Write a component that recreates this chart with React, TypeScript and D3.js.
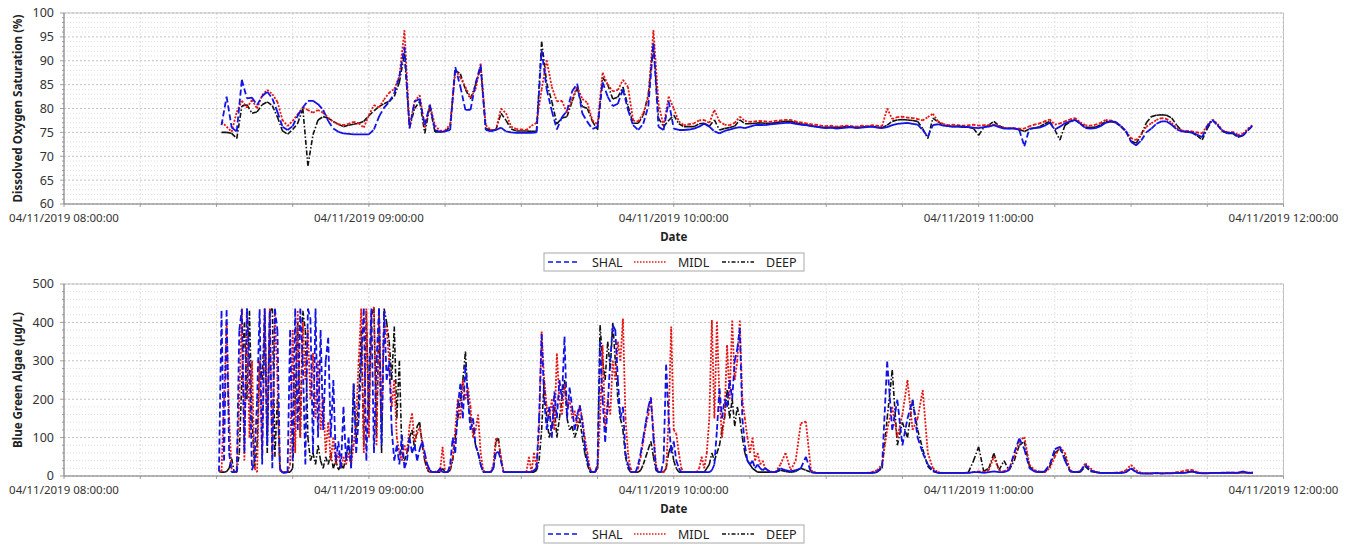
import React from 'react';
import * as d3 from 'd3';

// ---------- DATA ----------
// Dissolved oxygen saturation (%), one value per minute from 08:31 to 11:54
const DO_START_MIN = 31;
const doShal = [
  76.5, 82.5, 76.0, 75.2, 86.0, 82.1, 82.3, 80.7, 82.6, 83.5,
  82.1, 79.3, 76.2, 75.5, 76.3, 78.5, 80.2, 81.6, 81.6, 80.9,
  79.7, 77.4, 75.8, 75.1, 74.8, 74.7, 74.6, 74.6, 74.6, 74.6,
  75.6, 78.3, 80.2, 81.4, 83.2, 86.7, 92.9, 75.8, 81.5, 82.0,
  76.5, 80.8, 75.5, 75.1, 75.2, 75.5, 88.7, 84.6, 79.7, 79.7,
  85.3, 89.1, 75.5, 75.2, 75.5, 76.0, 75.2, 75.0, 74.9, 74.9,
  74.9, 74.9, 75.0, 92.2, 84.0, 79.5, 75.6, 78.2, 79.5, 83.6,
  85.2, 79.0, 77.2, 75.7, 76.2, 85.5, 82.5, 80.5, 81.0, 84.0,
  79.7, 76.5, 75.5, 76.8, 80.5, 93.6, 76.2, 75.5, 81.5, 75.8,
  75.5, 75.5, 75.6, 75.8, 76.2, 76.8, 76.2, 75.2, 74.8, 75.3,
  75.6, 75.9, 76.1, 75.9, 76.2, 76.5, 76.6, 76.5, 76.7, 76.8,
  76.9, 77.0, 77.0, 76.8, 76.6, 76.5, 76.3, 76.2, 76.0, 75.9,
  76.0, 75.8, 75.9, 76.0, 76.1, 75.9, 76.0, 76.1, 76.2, 76.0,
  75.9, 76.1, 76.5, 76.8, 76.9, 77.0, 76.8, 76.6, 75.5, 74.1,
  76.5, 76.7, 76.4, 76.3, 76.2, 76.3, 76.2, 76.1, 76.0, 75.9,
  76.1, 76.2, 76.5, 76.1, 75.8, 75.8, 75.9, 75.5, 72.1, 75.8,
  75.9, 76.0, 76.4, 77.0, 75.6, 76.2, 76.9, 77.3, 77.6, 76.8,
  75.9, 75.8, 75.9, 76.3, 77.0, 77.3, 77.2, 76.3, 75.3, 73.0,
  72.3, 73.3, 75.0, 75.8, 76.8, 77.3, 77.3, 76.6, 75.6, 75.2,
  75.1, 75.0, 74.5, 74.0, 76.3, 77.6, 76.5, 75.3, 74.9, 74.9,
  74.2, 74.3, 75.5, 76.5,
];
const doMidl = [
  77.2, 76.2, 75.1, 79.3, 81.6, 80.2, 81.8, 80.0, 82.8, 83.9,
  83.0, 81.4, 77.6, 76.3, 77.4, 78.8, 80.2, 79.7, 79.1, 79.7,
  79.1, 78.1, 77.2, 76.7, 76.5, 76.8, 77.2, 76.9, 76.0, 78.6,
  80.7, 80.2, 81.9, 83.3, 84.1, 86.7, 96.4, 76.2, 81.5, 82.8,
  76.0, 80.8, 76.5, 75.3, 75.4, 76.7, 88.0, 86.5, 84.5, 82.3,
  84.0, 89.4, 76.5, 75.5, 75.5, 80.0, 79.0, 76.2, 75.7, 75.6,
  75.5, 76.4, 77.0, 84.0, 90.1, 84.5, 81.5, 81.6, 79.0, 82.0,
  84.6, 82.0, 81.2, 77.5, 76.7, 87.5, 85.0, 83.6, 83.9, 86.0,
  84.5, 77.5, 77.3, 79.0, 82.4, 96.4, 81.0, 76.3, 82.5, 80.0,
  77.3, 76.5, 76.7, 76.9, 77.5, 77.6, 77.0, 79.7, 77.3, 76.6,
  76.5, 77.0, 78.3, 77.4, 77.2, 77.3, 77.4, 77.3, 77.2, 77.4,
  77.5, 77.6, 77.6, 77.3, 77.1, 76.9, 76.7, 76.6, 76.4, 76.3,
  76.4, 76.2, 76.3, 76.4, 76.3, 76.2, 76.4, 76.3, 76.5, 76.4,
  76.3, 80.0, 77.8, 78.2, 78.3, 78.1, 78.0, 77.8, 77.5, 78.2,
  78.9, 77.3, 76.8, 76.5, 76.6, 76.5, 76.4, 76.5, 76.6, 76.4,
  76.5, 76.5, 76.6, 76.3, 76.0, 75.9, 75.8, 75.8, 75.8, 76.3,
  76.6, 76.9, 77.3, 77.7, 76.6, 76.9, 77.3, 77.7, 78.0, 77.1,
  76.5, 76.4, 76.6, 77.0, 77.6, 77.5, 77.1, 76.3, 75.2, 73.8,
  73.4, 74.5, 76.2, 76.9, 77.6, 78.0, 77.8, 77.0, 75.9, 75.4,
  75.3, 75.2, 75.0, 74.8, 76.5, 77.7, 76.8, 75.4, 75.0, 75.1,
  74.5, 74.7, 75.8, 76.6,
];
const doDeep = [
  75.0, 75.0, 74.8, 73.7, 80.5, 80.8, 79.0, 79.3, 80.8, 81.4,
  80.6, 78.2, 75.3, 74.6, 75.6, 76.9, 80.0, 68.0, 74.5, 77.6,
  78.3, 78.0, 77.3, 76.7, 76.2, 76.5, 76.7, 76.9, 77.3, 78.5,
  79.5, 80.4, 81.0, 81.5, 82.5, 85.5, 91.5, 76.0, 80.0, 81.5,
  74.8, 80.4, 75.1, 75.1, 75.2, 76.2, 88.0, 87.3, 84.0, 82.0,
  85.0, 88.5, 75.8, 75.5, 75.5, 79.0, 77.5, 75.7, 75.3, 75.3,
  75.3, 75.2, 75.3, 94.0, 85.3, 81.5, 76.8, 78.0, 78.3, 81.5,
  84.3, 80.4, 80.0, 77.3, 75.5, 86.5, 85.0, 82.0, 82.4, 84.5,
  80.5, 76.9, 76.9, 78.5, 83.0, 93.6, 78.0, 76.2, 77.5, 78.6,
  76.8, 76.2, 76.2, 76.2, 76.8, 76.9, 76.3, 77.6, 75.5, 75.8,
  76.0, 76.3, 77.6, 76.8, 76.8, 76.9, 77.0, 76.9, 76.9, 77.0,
  77.2, 77.3, 77.3, 77.0, 76.8, 76.6, 76.4, 76.2, 76.1, 76.0,
  76.1, 76.0, 76.1, 76.2, 76.1, 76.0, 76.1, 76.2, 76.3, 76.1,
  76.0, 76.5, 77.3, 77.6, 77.7, 77.6, 77.5, 77.3, 75.8, 73.7,
  78.0, 77.2, 76.6, 76.3, 76.2, 76.2, 76.1, 76.1, 75.8, 74.4,
  76.0, 76.5, 77.3, 76.4, 75.9, 75.8, 75.8, 75.6, 75.2, 75.7,
  75.9, 76.2, 76.8, 77.3, 75.5, 73.4, 76.5, 77.2, 77.6, 76.9,
  76.1, 76.0, 76.1, 76.6, 77.2, 77.3, 77.0, 76.2, 75.1, 73.2,
  72.7, 74.5, 77.0, 78.3, 78.6, 78.7, 78.6, 78.0, 76.5, 75.3,
  75.1, 74.9, 74.3, 73.4, 75.8, 77.6, 76.6, 75.2, 74.8, 74.8,
  74.0, 74.3, 75.4, 76.4,
];

// Blue green algae (µg/L): every 30 s from 08:30:30 to 10:20, then every minute to 11:54
const BGA_EARLY_START_MIN = 30.5;
const BGA_EARLY_STEP_MIN = 0.5;
const bgaShalEarly = [
  12,
  430, 40, 432, 60, 10, 10, 12, 380, 434, 60,
  436, 300, 15, 40, 200, 434, 30, 436, 80, 430,
  20, 436, 380, 20, 8, 8, 10, 380, 40, 436,
  120, 436, 300, 30, 436, 410, 60, 436, 100, 380,
  120, 300, 360, 100, 250, 40, 90, 20, 180, 40,
  100, 20, 240, 60, 150, 300, 436, 40, 250, 436,
  60, 300, 436, 80, 430, 250, 300, 120, 40, 80,
  30, 107, 20, 40, 100, 60, 80, 40, 70, 90,
  60, 30, 15, 10, 10, 10, 20, 10, 10, 10,
  30, 100, 60, 180, 240, 150, 290, 200, 120, 150,
  80, 60, 30, 10, 10, 10, 10, 20, 60, 63,
  40, 10, 10, 10, 10, 10, 10, 10, 10, 10,
  10, 10, 10, 15, 20, 150, 370, 200, 120, 180,
  100, 220, 150, 250, 200, 363, 150, 230, 180, 120,
  160, 184, 140, 80, 40, 15, 10, 10, 30, 350,
  200, 89, 180, 300, 393, 380, 250, 150, 180, 60,
  30, 10, 10, 10, 30, 60, 100, 140, 180, 205,
  100, 20, 10, 10, 40, 290, 150, 60, 90, 40,
  20, 10, 10, 10, 10, 10, 10, 10, 10, 10,
  10, 10, 10, 15, 30, 120, 228, 150, 200, 180,
  250, 200, 300, 330, 385, 150, 80, 40, 30, 40,
  20, 30, 20, 15, 20, 15, 10, 10, 10,
];
const bgaMidlEarly = [
  12,
  12, 200, 400, 150, 10, 10, 10, 200, 436, 40,
  436, 100, 300, 20, 10, 300, 60, 436, 120, 436,
  50, 430, 250, 15, 10, 10, 10, 30, 380, 60,
  430, 100, 400, 250, 380, 200, 320, 150, 300, 120,
  200, 60, 140, 40, 100, 30, 60, 20, 50, 30,
  60, 30, 80, 150, 300, 436, 60, 436, 100, 430,
  440, 80, 420, 150, 400, 380, 300, 180, 250, 100,
  60, 40, 80, 60, 130, 163, 90, 110, 128, 90,
  50, 20, 10, 10, 10, 15, 10, 76, 10, 10,
  20, 50, 120, 200, 150, 250, 200, 230, 180, 100,
  120, 160, 60, 15, 10, 10, 10, 30, 98, 90,
  50, 10, 10, 10, 10, 10, 10, 10, 10, 10,
  10, 50, 10, 60, 20, 120, 376, 250, 180, 150,
  200, 120, 319, 200, 160, 240, 180, 200, 150, 170,
  130, 184, 150, 100, 60, 20, 10, 10, 20, 150,
  341, 124, 200, 160, 300, 250, 350, 300, 410, 150,
  60, 20, 10, 10, 20, 50, 90, 130, 160, 202,
  120, 30, 10, 10, 10, 20, 150, 389, 120, 110,
  60, 20, 10, 10, 10, 10, 10, 10, 20, 50,
  20, 60, 150, 406, 150, 402, 200, 100, 160, 341,
  200, 405, 250, 300, 405, 200, 150, 100, 60, 100,
  40, 60, 30, 40, 20, 15, 12, 10, 10,
];
const bgaDeepEarly = [
  12,
  10, 10, 12, 20, 45, 10, 10, 60, 250, 400,
  200, 430, 150, 20, 80, 300, 250, 420, 60, 430,
  436, 50, 200, 15, 10, 10, 10, 10, 20, 200,
  400, 100, 430, 380, 100, 40, 60, 30, 80, 40,
  20, 50, 30, 60, 20, 40, 15, 30, 20, 50,
  80, 30, 241, 100, 200, 380, 80, 430, 150, 420,
  436, 100, 436, 60, 436, 400, 350, 250, 389, 150,
  300, 60, 40, 60, 100, 120, 70, 130, 140, 80,
  40, 15, 10, 10, 10, 10, 10, 20, 10, 10,
  15, 40, 100, 150, 200, 250, 324, 200, 150, 120,
  80, 60, 30, 10, 10, 10, 10, 20, 90, 98,
  40, 10, 10, 10, 10, 10, 10, 10, 10, 10,
  10, 10, 10, 10, 15, 40, 120, 250, 150, 100,
  130, 180, 100, 150, 200, 250, 150, 120, 130, 100,
  120, 150, 100, 60, 30, 10, 10, 10, 20, 393,
  300, 250, 350, 280, 398, 300, 200, 150, 120, 50,
  20, 10, 10, 10, 10, 15, 30, 50, 70, 90,
  50, 15, 10, 10, 10, 20, 60, 80, 40, 20,
  10, 10, 10, 10, 10, 10, 10, 10, 10, 10,
  10, 20, 30, 60, 40, 60, 80, 120, 150, 224,
  150, 200, 130, 180, 150, 100, 60, 40, 30, 20,
  15, 10, 10, 10, 10, 10, 10, 10, 10,
];
const BGA_LATE_START_MIN = 141;
const BGA_LATE_STEP_MIN = 1;
const bgaShalLate = [
  20, 15, 12, 15, 20, 50, 10, 8, 8, 8,
  8, 8, 8, 8, 8, 8, 8, 8, 8, 10,
  25, 298, 120, 198, 80, 150, 198, 100, 60, 30,
  15, 8, 8, 8, 8, 8, 8, 8, 10, 10,
  8, 10, 12, 10, 10, 15, 60, 98, 70, 20,
  12, 10, 12, 30, 70, 76, 40, 12, 10, 12,
  30, 15, 10, 8, 8, 8, 8, 8, 10, 20,
  10, 6, 6, 6, 8, 6, 7, 7, 8, 8,
  9, 12, 8, 7, 7, 8, 8, 8, 9, 9,
  8, 12, 8, 9,
];
const bgaMidlLate = [
  30, 60, 15, 40, 137, 142, 15, 8, 8, 8,
  8, 8, 8, 8, 8, 8, 8, 8, 10, 15,
  30, 120, 180, 100, 160, 250, 120, 150, 224, 60,
  20, 10, 8, 8, 8, 8, 8, 8, 10, 12,
  10, 15, 50, 15, 12, 20, 50, 90, 102, 30,
  15, 12, 10, 20, 50, 76, 60, 15, 10, 12,
  33, 20, 10, 8, 8, 8, 9, 10, 15, 29,
  15, 8, 7, 7, 7, 7, 8, 8, 10, 12,
  15, 16, 10, 8, 8, 8, 8, 9, 9, 9,
  9, 10, 9, 9,
];
const bgaDeepLate = [
  15, 12, 10, 12, 20, 15, 10, 8, 8, 8,
  8, 8, 8, 8, 8, 8, 8, 8, 8, 10,
  20, 150, 276, 80, 140, 100, 198, 120, 70, 25,
  12, 8, 8, 8, 8, 8, 8, 10, 40, 76,
  12, 20, 59, 15, 40, 15, 40, 80, 90, 25,
  12, 10, 10, 25, 60, 70, 50, 12, 10, 10,
  25, 12, 10, 8, 8, 8, 8, 8, 10, 20,
  10, 7, 7, 7, 7, 7, 7, 8, 8, 8,
  10, 12, 8, 8, 8, 8, 8, 8, 8, 8,
  8, 9, 8, 8,
];

const seriesNames = ['SHAL', 'MIDL', 'DEEP'];
const xTickLabels = [
  '04/11/2019 08:00:00',
  '04/11/2019 09:00:00',
  '04/11/2019 10:00:00',
  '04/11/2019 11:00:00',
  '04/11/2019 12:00:00',
];
const xTickMinutes = [0, 60, 120, 180, 240];
const doTicks = [60, 65, 70, 75, 80, 85, 90, 95, 100];
const bgaTicks = [0, 100, 200, 300, 400, 500];

// ---------- STYLE ----------
const FONT = "'Noto Sans', 'DejaVu Sans', Arial, sans-serif";
const STYLES: Record<string, { color: string; dash: string; width: number }> = {
  SHAL: { color: '#1212e6', dash: '6,3', width: 1.8 },
  MIDL: { color: '#e81414', dash: '2,1.5', width: 1.8 },
  DEEP: { color: '#111111', dash: '5,2,1.5,2', width: 1.6 },
};
const LEGEND_DASH: Record<string, string> = { SHAL: '5,3', MIDL: '1.5,1.5', DEEP: '4,2,1.5,2' };

const PLOT_LEFT = 64;
const PLOT_RIGHT = 1283.5;
const xScale = d3.scaleLinear().domain([0, 240]).range([PLOT_LEFT, PLOT_RIGHT]);

type Pt = [number, number];

function toPoints(values: number[], start: number, step: number): Pt[] {
  return values.map((v, i) => [start + i * step, v] as Pt);
}

// each segment is its own sub-path so the dash pattern restarts per segment
function segmentPath(pts: Pt[], y: d3.ScaleLinear<number, number>): string {
  const line = d3.line<Pt>().x((d) => xScale(d[0])).y((d) => y(d[1]));
  const parts: string[] = [];
  for (let i = 1; i < pts.length; i++) {
    parts.push(line([pts[i - 1], pts[i]]) as string);
  }
  return parts.join('');
}

interface PanelProps {
  top: number;
  bottom: number;
  domain: [number, number];
  majors: number[];
  minorStep: number;
  yLabel: string;
  yLabelLen: number;
  series: { name: string; pts: Pt[] }[];
}

function Panel({ top, bottom, domain, majors, minorStep, yLabel, yLabelLen, series }: PanelProps) {
  const y = d3.scaleLinear().domain(domain).range([bottom, top]);
  const minors = d3
    .range(domain[0], domain[1] + 1e-9, minorStep)
    .filter((v) => !majors.some((m) => Math.abs(m - v) < 1e-9));
  const quarters = d3.range(0, 241, 15);
  const midY = (top + bottom) / 2;
  const legendTop = bottom + 49;
  const legendH = 18;
  const legendMid = legendTop + legendH / 2;
  const legendItems = [
    { name: 'SHAL', x0: 548, x1: 580, tx: 592 },
    { name: 'MIDL', x0: 634, x1: 667, tx: 678 },
    { name: 'DEEP', x0: 722, x1: 754, tx: 766 },
  ];
  // draw last series first so SHAL is on top
  const drawOrder = [...series].reverse();
  return (
    <g>
      <rect x={PLOT_LEFT} y={top} width={PLOT_RIGHT - PLOT_LEFT} height={bottom - top} fill="#ffffff" />
      {minors.map((v) => (
        <line key={'mn' + v} x1={PLOT_LEFT} x2={PLOT_RIGHT} y1={y(v)} y2={y(v)}
          stroke="#d6d6d6" strokeWidth={0.8} strokeDasharray="1,2" />
      ))}
      {quarters.map((t) => (
        <line key={'vg' + t} x1={xScale(t)} x2={xScale(t)} y1={top} y2={bottom}
          stroke={t % 60 === 0 ? '#c4c4c4' : '#dadada'} strokeWidth={0.8} strokeDasharray="2,2" />
      ))}
      {majors.map((v) => (
        <line key={'mj' + v} x1={PLOT_LEFT} x2={PLOT_RIGHT} y1={y(v)} y2={y(v)}
          stroke="#b4b4b4" strokeWidth={0.8} strokeDasharray="2,2" />
      ))}
      <rect x={PLOT_LEFT} y={top} width={PLOT_RIGHT - PLOT_LEFT} height={bottom - top}
        fill="none" stroke="#b8b8b8" strokeWidth={0.8} />
      {drawOrder.map((s) => {
        const st = STYLES[s.name];
        return (
          <path key={s.name} d={segmentPath(s.pts, y)} fill="none" stroke={st.color}
            strokeWidth={st.width} strokeDasharray={st.dash} strokeLinecap="butt" />
        );
      })}
      <line x1={PLOT_LEFT} x2={PLOT_LEFT} y1={top} y2={bottom} stroke="#8a8a8a" strokeWidth={1} />
      <line x1={PLOT_LEFT} x2={PLOT_RIGHT} y1={bottom} y2={bottom} stroke="#8a8a8a" strokeWidth={1} />
      {minors.map((v) => (
        <line key={'ymt' + v} x1={PLOT_LEFT - 2} x2={PLOT_LEFT} y1={y(v)} y2={y(v)} stroke="#8a8a8a" strokeWidth={0.8} />
      ))}
      {majors.map((v) => (
        <line key={'yMt' + v} x1={PLOT_LEFT - 4} x2={PLOT_LEFT} y1={y(v)} y2={y(v)} stroke="#8a8a8a" strokeWidth={0.8} />
      ))}
      {quarters.map((t) => (
        <line key={'xt' + t} x1={xScale(t)} x2={xScale(t)} y1={bottom} y2={bottom + 3} stroke="#8a8a8a" strokeWidth={0.8} />
      ))}
      {majors.map((v) => (
        <text key={'yl' + v} x={PLOT_LEFT - 10} y={y(v)} dy="0.35em" textAnchor="end"
          fontFamily={FONT} fontSize={12.5} fill="#333">{v}</text>
      ))}
      {xTickMinutes.map((t, i) => (
        <text key={'xl' + t} x={xScale(t)} y={bottom + 18} textAnchor="middle"
          fontFamily={FONT} fontSize={11.5} fill="#333">{xTickLabels[i]}</text>
      ))}
      <text x={xScale(120)} y={bottom + 37} textAnchor="middle" fontFamily={FONT}
        fontSize={11.5} fontWeight="bold" fill="#222">Date</text>
      <text transform={`translate(18,${midY}) rotate(-90)`} textAnchor="middle" dy="0.35em"
        fontFamily={FONT} fontSize={11.5} fontWeight="bold" fill="#222"
        textLength={yLabelLen} lengthAdjust="spacingAndGlyphs">{yLabel}</text>
      <rect x={544} y={legendTop} width={260} height={legendH} fill="#fff" stroke="#a8a8a8" strokeWidth={1} />
      {legendItems.map((it) => {
        const st = STYLES[it.name];
        return (
          <g key={'lg' + it.name}>
            <line x1={it.x0} x2={it.x1} y1={legendMid} y2={legendMid} stroke={st.color}
              strokeWidth={1.4} strokeDasharray={LEGEND_DASH[it.name]} />
            <text x={it.tx} y={legendMid} dy="0.36em" fontFamily={FONT} fontSize={12.5} fill="#222">{it.name}</text>
          </g>
        );
      })}
    </g>
  );
}

export default function App() {
  const doSeries = [
    { name: seriesNames[0], pts: toPoints(doShal, DO_START_MIN, 1) },
    { name: seriesNames[1], pts: toPoints(doMidl, DO_START_MIN, 1) },
    { name: seriesNames[2], pts: toPoints(doDeep, DO_START_MIN, 1) },
  ];
  const bga = (early: number[], late: number[]) => [
    ...toPoints(early, BGA_EARLY_START_MIN, BGA_EARLY_STEP_MIN),
    ...toPoints(late, BGA_LATE_START_MIN, BGA_LATE_STEP_MIN),
  ];
  const bgaSeries = [
    { name: seriesNames[0], pts: bga(bgaShalEarly, bgaShalLate) },
    { name: seriesNames[1], pts: bga(bgaMidlEarly, bgaMidlLate) },
    { name: seriesNames[2], pts: bga(bgaDeepEarly, bgaDeepLate) },
  ];
  return (
    <svg width={1350} height={546} style={{ position: 'absolute', left: 0, top: 0, background: '#fff' }}>
      <rect x={0} y={0} width={1350} height={546} fill="#fff" />
      <Panel top={13} bottom={204} domain={[60, 100]} majors={doTicks} minorStep={1}
        yLabel="Dissolved Oxygen Saturation (%)" yLabelLen={188} series={doSeries} />
      <Panel top={284} bottom={476} domain={[0, 500]} majors={bgaTicks} minorStep={20}
        yLabel="Blue Green Algae (µg/L)" yLabelLen={136} series={bgaSeries} />
    </svg>
  );
}
